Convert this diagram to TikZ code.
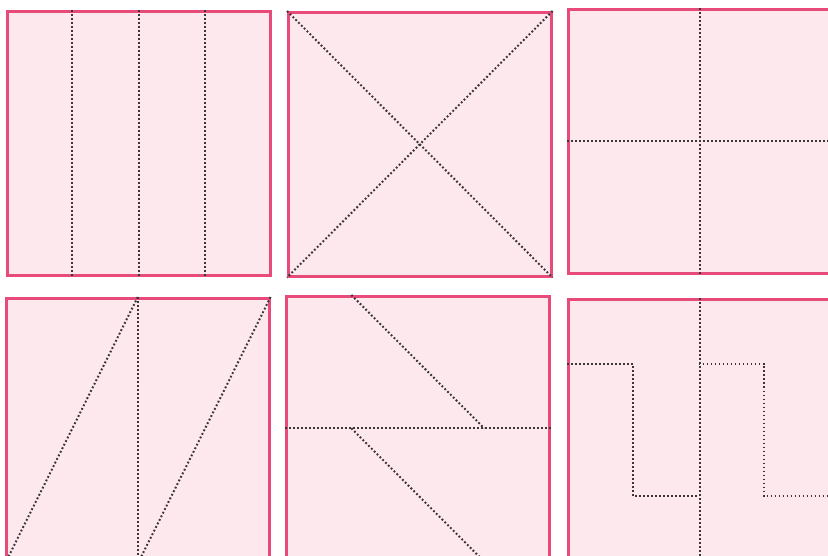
\documentclass[tikz,border=0pt]{standalone}
\usepackage{tikz}
\usetikzlibrary{calc}
\definecolor{cPink}{HTML}{FDE8EE}
\definecolor{cRose}{HTML}{E84A7A}
\definecolor{cDot}{HTML}{3A3538}
\tikzset{
  sheet/.style={
    rectangle, draw=cRose, fill=cPink, line width=2.6pt,
    minimum width=263pt, minimum height=264pt, inner sep=0pt,
    anchor=north west
  },
  fold/.style={cDot, line width=2pt, dash pattern=on 1.8pt off 2.2pt},
}

\begin{document}
\begin{tikzpicture}[x=1pt, y=-1pt]
  \clip (0,0) rectangle (828,556);
  \fill[white] (0,0) rectangle (828,556);

  % Top row
  \node[sheet] (s1) at (6,10) {};
  \node[sheet] (s2) at (287,11) {};
  \node[sheet] (s3) at (567,8) {};

  % Bottom row
  \node[sheet] (s4) at (5,297) {};
  \node[sheet] (s5) at (285,295) {};
  \node[sheet] (s6) at (567,298) {};

  % Sheet 1: four strips
  \draw[fold] ($(s1.north west)!0.25!(s1.north east)$) -- ($(s1.south west)!0.25!(s1.south east)$);
  \draw[fold] (s1.north) -- (s1.south);
  \draw[fold] ($(s1.north west)!0.75!(s1.north east)$) -- ($(s1.south west)!0.75!(s1.south east)$);

  % Sheet 2: diagonals
  \draw[fold] (s2.north west) -- (s2.south east);
  \draw[fold] (s2.north east) -- (s2.south west);

  % Sheet 3: quarters
  \draw[fold] (s3.north) -- (s3.south);
  \draw[fold] (s3.west) -- (s3.east);

  % Sheet 4: slanted strips
  \draw[fold] (s4.south west) -- (s4.north);
  \draw[fold] (s4.north) -- (s4.south);
  \draw[fold] (s4.south) -- (s4.north east);

  % Sheet 5: halves with slants
  \draw[fold] (s5.west) -- (s5.east);
  \draw[fold] ($(s5.north west)!0.25!(s5.north east)$) -- ($(s5.west)!0.75!(s5.east)$);
  \draw[fold] ($(s5.west)!0.25!(s5.east)$) -- ($(s5.south west)!0.75!(s5.south east)$);

  % Sheet 6: steps
  \coordinate (s6a) at ($(s6.north west)+(0,66)$);
  \coordinate (s6b) at ($(s6.north west)+(66,66)$);
  \coordinate (s6c) at ($(s6.north west)+(66,198)$);
  \coordinate (s6d) at ($(s6.north west)+(131.5,198)$);
  \coordinate (s6e) at ($(s6.north west)+(131.5,66)$);
  \coordinate (s6f) at ($(s6.north west)+(197,66)$);
  \coordinate (s6g) at ($(s6.north west)+(197,198)$);
  \coordinate (s6h) at ($(s6.north west)+(263,198)$);
  \draw[fold] (s6.north) -- (s6.south);
  \draw[fold] (s6a) -- (s6b) -- (s6c) -- (s6d);
  \draw[fold] (s6e) -- (s6f) -- (s6g) -- (s6h);

\end{tikzpicture}
\end{document}
